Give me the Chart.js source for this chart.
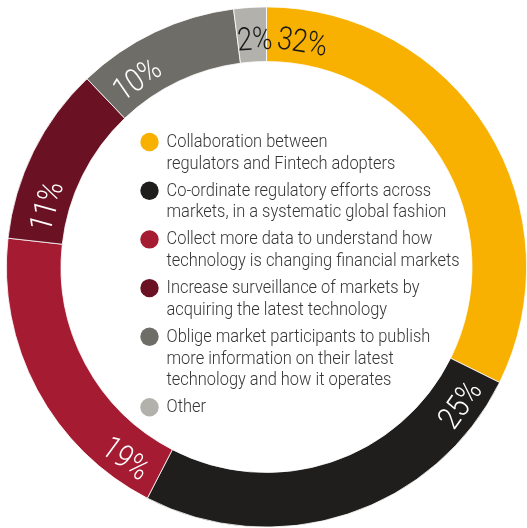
<!DOCTYPE html>
<html>
<head>
<meta charset="utf-8">
<script src="https://cdn.jsdelivr.net/npm/chart.js@4"></script>
<style>
  html, body { margin: 0; padding: 0; background: #fff; }
  #wrap { width: 527px; height: 528px; }
</style>
</head>
<body>
<div id="wrap"><canvas id="myChart" width="527" height="528"></canvas></div>
<script>
const categories = [
  ['Collaboration between', 'regulators and Fintech adopters'],
  ['Co-ordinate regulatory efforts across', 'markets, in a systematic global fashion'],
  ['Collect more data to understand how', 'technology is changing financial markets'],
  ['Increase surveillance of markets by', 'acquiring the latest technology'],
  ['Oblige market participants to publish', 'more information on their latest', 'technology and how it operates'],
  ['Other']
];
const shares = [32, 25, 19, 11, 10, 2];
const colours = ['#F8B100', '#1F1E1C', '#A51B32', '#6A1123', '#6F6D68', '#B2B1AC'];
const labelColours = ['#1a1a1a', '#ffffff', '#ffffff', '#ffffff', '#ffffff', '#1a1a1a'];

// percent labels placed along the ring, hugging the start of each segment
const ringLabels = {
  id: 'ringLabels',
  afterDatasetsDraw(chart) {
    const ctx = chart.ctx;
    const meta = chart.getDatasetMeta(0);
    const squeeze = 0.85;
    ctx.save();
    ctx.font = '300 32px Roboto';
    ctx.textAlign = 'center';
    ctx.textBaseline = 'alphabetic';
    meta.data.forEach((arc, i) => {
      const txt = shares[i] + '%';
      const r = (arc.innerRadius + arc.outerRadius) / 2;
      const w = ctx.measureText(txt).width * squeeze;
      const gap = i === shares.length - 1 ? 0 : 0.05;
      const a = arc.startAngle + gap + w / (2 * r);
      const x = arc.x + r * Math.cos(a);
      const y = arc.y + r * Math.sin(a);
      let rot = a + Math.PI / 2;
      const t = ((rot % (2 * Math.PI)) + 2 * Math.PI) % (2 * Math.PI);
      if (t > Math.PI / 2 && t < 3 * Math.PI / 2) rot -= Math.PI;
      ctx.save();
      ctx.translate(x, y);
      ctx.rotate(rot);
      ctx.scale(squeeze, 1);
      ctx.fillStyle = labelColours[i];
      ctx.fillText(txt, 0, 15);
      ctx.restore();
    });
    ctx.restore();
  }
};

// legend drawn in the hole of the doughnut
const centreLegend = {
  id: 'centreLegend',
  afterDraw(chart) {
    const ctx = chart.ctx;
    ctx.save();
    ctx.font = '300 19px Roboto';
    ctx.textBaseline = 'alphabetic';
    const sx = 293 / ctx.measureText('technology is changing financial markets').width;
    let y = 147;
    categories.forEach((lines, i) => {
      ctx.fillStyle = colours[i];
      ctx.beginPath();
      ctx.arc(149.5, y - 5, 9.2, 0, Math.PI * 2);
      ctx.fill();
      ctx.fillStyle = '#363636';
      lines.forEach((ln, j) => {
        ctx.save();
        ctx.translate(166.5, y + j * 21.7);
        ctx.scale(sx, 1);
        ctx.fillText(ln, 0, 0);
        ctx.restore();
      });
      y += (lines.length - 1) * 21.7 + 27;
    });
    ctx.restore();
  }
};

const ctx = document.getElementById('myChart').getContext('2d');
new Chart(ctx, {
  type: 'doughnut',
  data: {
    labels: categories.map(c => c.join(' ')),
    datasets: [{
      data: shares,
      backgroundColor: colours,
      borderColor: '#ffffff',
      borderWidth: 0.8
    }]
  },
  options: {
    responsive: false,
    animation: false,
    cutout: '79%',
    rotation: 0,
    layout: { padding: { left: 6, top: 6, right: 0, bottom: 0 } },
    plugins: {
      legend: { display: false },
      tooltip: { enabled: false }
    }
  },
  plugins: [ringLabels, centreLegend]
});
</script>
</body>
</html>
